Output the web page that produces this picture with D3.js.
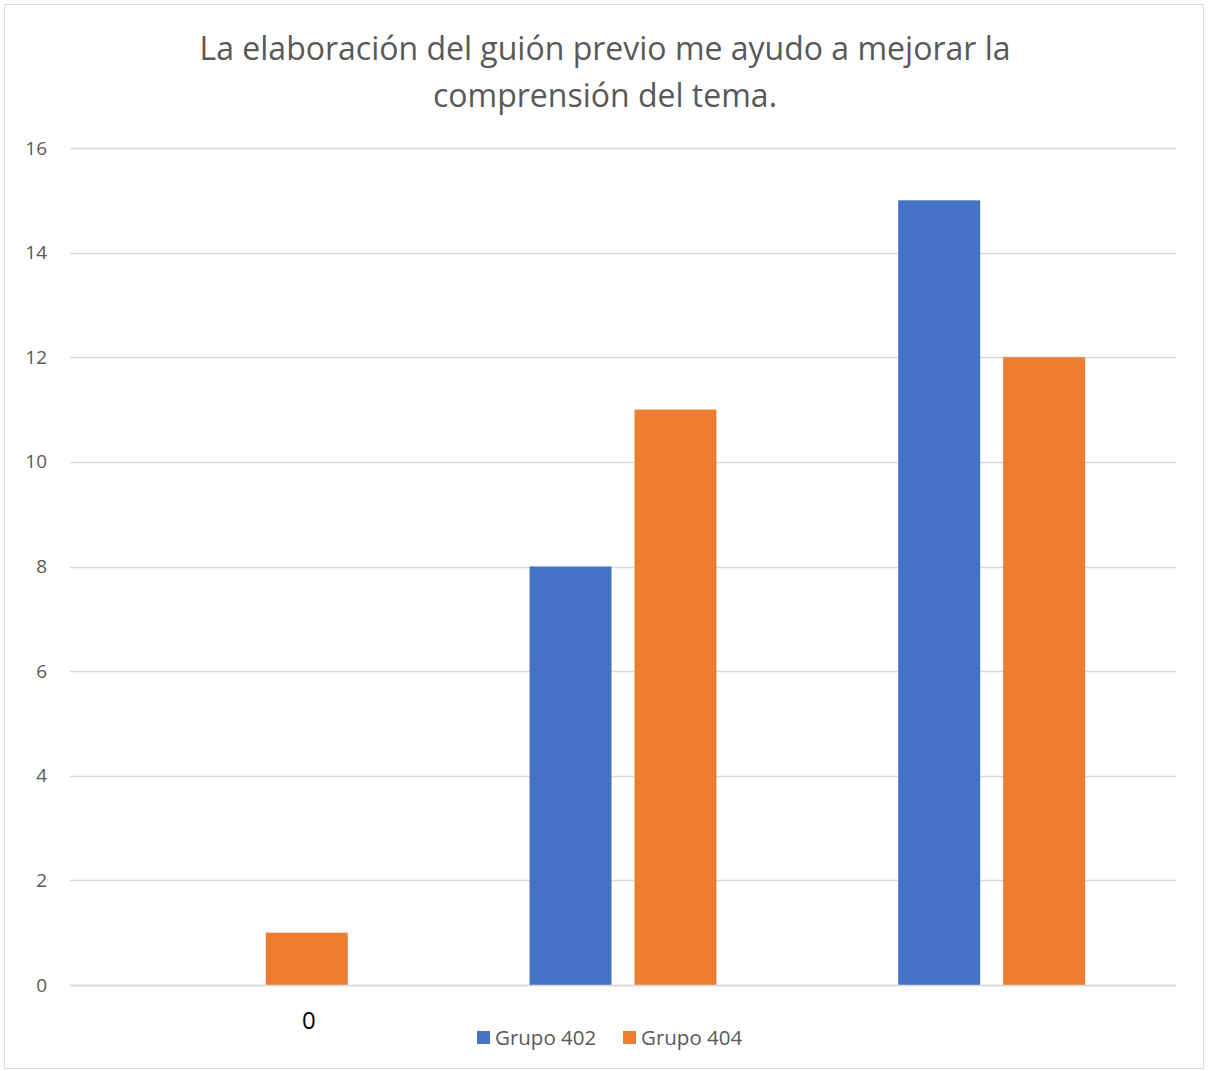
<!DOCTYPE html>
<html>
<head>
<meta charset="utf-8">
<script src="https://d3js.org/d3.v7.min.js"></script>
<style>
  body { margin: 0; background: #fff; }
  svg text { font-family: "Open Sans", sans-serif; }
</style>
</head>
<body>
<svg id="chart" width="1208" height="1071"></svg>
<script>
// data
const categories = ["0", "1", "2"];
const categoryLabels = ["0", "", ""];
const seriesNames = ["Grupo 402", "Grupo 404"];
const grupo402 = [0, 8, 15];
const grupo404 = [1, 11, 12];
const yTicks = [0, 2, 4, 6, 8, 10, 12, 14, 16];
const colors = ["#4472C4", "#ED7D31"];

const svg = d3.select("svg#chart");
const width = 1208, height = 1071;
const margin = { top: 148, right: 32, bottom: 86, left: 70 };

// chart frame
svg.append("rect")
  .attr("x", 4.5).attr("y", 4.5)
  .attr("width", width - 9).attr("height", height - 7)
  .attr("fill", "#fff").attr("stroke", "#d9d9d9");

// title
const title = svg.append("text")
  .attr("text-anchor", "middle")
  .attr("fill", "#595959")
  .attr("font-size", 32);
title.append("tspan").attr("x", 605).attr("y", 60).text("La elaboración del guión previo me ayudo a mejorar la");
title.append("tspan").attr("x", 605).attr("y", 107).text("comprensión del tema.");

const y = d3.scaleLinear()
  .domain([0, 16])
  .range([height - margin.bottom, margin.top]);

const x0 = d3.scaleBand()
  .domain(categories)
  .range([margin.left, width - margin.right])
  .paddingInner(0.493)
  .paddingOuter(0.2465);

const x1 = d3.scaleBand()
  .domain(seriesNames)
  .range([0, x0.bandwidth()])
  .paddingInner(0.219);

const color = d3.scaleOrdinal().domain(seriesNames).range(colors);

// gridlines
svg.append("g")
  .selectAll("line")
  .data(yTicks)
  .join("line")
  .attr("x1", margin.left).attr("x2", width - margin.right)
  .attr("y1", d => Math.round(y(d)) + 0.5).attr("y2", d => Math.round(y(d)) + 0.5)
  .attr("stroke", "#d9d9d9")
  .attr("stroke-width", 1.3);

// y labels
const yAxis = svg.append("g")
  .attr("transform", "translate(" + (margin.left - 23) + ",0)")
  .call(d3.axisLeft(y).tickValues(yTicks).tickSize(0).tickPadding(0));
yAxis.select(".domain").remove();
yAxis.selectAll("text")
  .attr("fill", "#595959")
  .attr("font-size", 19)
  .attr("font-family", "Open Sans, sans-serif");

// bars
const rows = categories.map((c, i) => ({
  cat: c,
  values: [grupo402[i], grupo404[i]]
}));

const groups = svg.append("g")
  .selectAll("g")
  .data(rows)
  .join("g")
  .attr("transform", d => "translate(" + x0(d.cat) + ",0)");

groups.selectAll("rect")
  .data(d => d.values.map((v, j) => ({ name: seriesNames[j], value: v })))
  .join("rect")
  .attr("x", d => x1(d.name))
  .attr("width", x1.bandwidth())
  .attr("y", d => y(d.value))
  .attr("height", d => y(0) - y(d.value))
  .attr("fill", d => color(d.name));

// zero baseline on top
svg.append("line")
  .attr("x1", margin.left).attr("x2", width - margin.right)
  .attr("y1", Math.round(y(0)) + 0.5).attr("y2", Math.round(y(0)) + 0.5)
  .attr("stroke", "#d9d9d9").attr("stroke-width", 1.5);

// category label (sits under the orange bar in the original)
svg.append("g")
  .selectAll("text")
  .data(categories)
  .join("text")
  .attr("x", (d) => x0(d) + x1("Grupo 404") + x1.bandwidth() / 2 + 2)
  .attr("y", y(0) + 44)
  .attr("text-anchor", "middle")
  .attr("font-size", 24)
  .attr("fill", "#000")
  .text((d, i) => categoryLabels[i]);

// legend
const legend = svg.append("g").attr("transform", "translate(477,1031)");
const legendItems = legend.selectAll("g")
  .data(seriesNames)
  .join("g")
  .attr("transform", (d, i) => "translate(" + (i * 146) + ",0)");
legendItems.append("rect")
  .attr("width", 13).attr("height", 13)
  .attr("fill", d => color(d));
legendItems.append("text")
  .attr("x", 18).attr("y", 14)
  .attr("font-size", 20.5)
  .attr("fill", "#595959")
  .text(d => d);
</script>
</body>
</html>
